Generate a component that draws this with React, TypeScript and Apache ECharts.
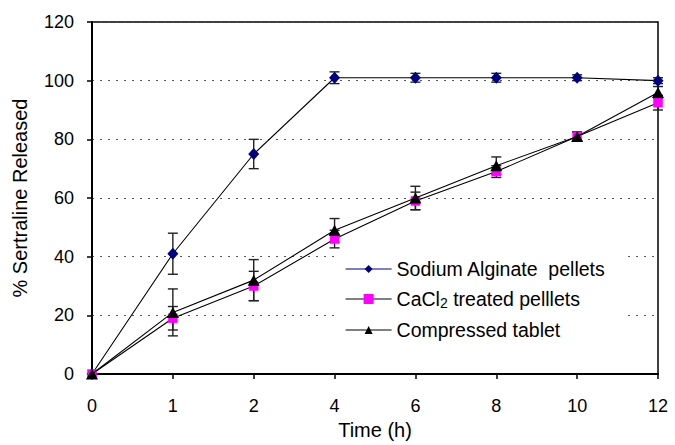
import React, { useEffect, useRef } from "react";
import * as echarts from "echarts";

const timeLabels = ["0", "1", "2", "4", "6", "8", "10", "12"];
const yTicks = [0, 20, 40, 60, 80, 100, 120];

const alginate = [0, 41, 75, 101, 101, 101, 101, 100];
const alginateErr = [0, 7, 5, 2, 1.5, 1.5, 1, 1];

const cacl2 = [0, 19, 30, 46, 59, 69, 81, 92.5];
const cacl2Err = [0, 4, 5, 3, 3, 2, 1.5, 2.5];

const tablet = [0, 21, 32, 49, 60, 71, 81, 96];
const tabletErr = [0, 8, 7, 4, 4, 3, 1.5, 2];

const seriesNames = ["Sodium Alginate  pellets", "CaCl2 treated pelllets", "Compressed tablet"];

function errData(vals: number[], errs: number[]) {
  return vals.map((v, i) => [i, v - errs[i], v + errs[i]]);
}

export default function App() {
  const ref = useRef<HTMLDivElement>(null);
  useEffect(() => {
    if (!ref.current) return;
    const chart = echarts.init(ref.current, undefined, { renderer: "svg" });
    const font = "Liberation Sans, Arial, sans-serif";
    const errSeries = (name: string, vals: number[], errs: number[]) => ({
      type: "custom",
      name: name + "_err",
      z: 2,
      silent: true,
      data: errData(vals, errs),
      renderItem: (params: any, api: any) => {
        const x = api.value(0);
        const lo = api.coord([x, api.value(1)]);
        const hi = api.coord([x, api.value(2)]);
        const w = 5;
        const style = { stroke: "#222", lineWidth: 1.4 };
        return {
          type: "group",
          children: [
            { type: "line", shape: { x1: lo[0], y1: lo[1], x2: hi[0], y2: hi[1] }, style },
            { type: "line", shape: { x1: lo[0] - w, y1: lo[1], x2: lo[0] + w, y2: lo[1] }, style },
            { type: "line", shape: { x1: hi[0] - w, y1: hi[1], x2: hi[0] + w, y2: hi[1] }, style },
          ],
        };
      },
    });
    chart.setOption({
      animation: false,
      backgroundColor: "#fff",
      textStyle: { fontFamily: font },
      grid: {
        left: 92, right: 17, top: 22, bottom: 69,
        show: true, borderColor: "#000", borderWidth: 1.5, backgroundColor: "transparent",
      },
      legend: {
        orient: "vertical",
        left: 335,
        top: 254,
        itemWidth: 46,
        itemHeight: 10,
        itemGap: 10,
        backgroundColor: "#fff",
        padding: [5, 22, 5, 10],
        data: [
          { name: seriesNames[0], lineStyle: { color: "#000080", width: 1.2 } },
          { name: seriesNames[1], lineStyle: { color: "#000", width: 1.2 } },
          { name: seriesNames[2], lineStyle: { color: "#000", width: 1.2 } },
        ],
        formatter: (name: string) =>
          name.startsWith("CaCl2")
            ? "{a|CaCl}{s|2}{a| treated pelllets}"
            : "{a|" + name + "}",
        textStyle: {
          fontFamily: font,
          fontSize: 19.5,
          color: "#000",
          rich: {
            a: { fontFamily: font, fontSize: 19.5, color: "#000" },
            s: { fontFamily: font, fontSize: 14, color: "#000", verticalAlign: "bottom", padding: [8, 0, 0, 0] },
          },
        },
      },
      xAxis: {
        type: "category",
        data: timeLabels,
        boundaryGap: false,
        name: "Time (h)",
        nameLocation: "middle",
        nameGap: 46,
        nameTextStyle: { fontSize: 20, color: "#000", fontFamily: font },
        axisLine: { lineStyle: { color: "#000", width: 2 } },
        axisTick: { show: true, length: 5, inside: false, alignWithLabel: true, lineStyle: { color: "#000", width: 1.5 } },
        axisLabel: { fontSize: 18, color: "#000", margin: 23, fontFamily: font },
        splitLine: { show: false },
      },
      yAxis: {
        type: "value",
        min: yTicks[0],
        max: yTicks[yTicks.length - 1],
        interval: 20,
        name: "% Sertraline Released",
        nameLocation: "middle",
        nameGap: 62,
        nameRotate: 90,
        nameTextStyle: { fontSize: 20, color: "#000", fontFamily: font },
        axisLine: { show: true, lineStyle: { color: "#000", width: 2 } },
        axisTick: { show: true, length: 5, lineStyle: { color: "#000", width: 1.5 } },
        axisLabel: { fontSize: 18, color: "#000", margin: 18, fontFamily: font },
        splitLine: { show: true, lineStyle: { color: "#555", type: [2, 6], width: 1.2 } },
      },
      series: [
        errSeries(seriesNames[0], alginate, alginateErr),
        errSeries(seriesNames[1], cacl2, cacl2Err),
        errSeries(seriesNames[2], tablet, tabletErr),
        {
          type: "line",
          name: seriesNames[0],
          data: alginate,
          z: 3,
          symbol: "diamond",
          symbolSize: [11, 12],
          lineStyle: { color: "#000", width: 1.1 },
          itemStyle: { color: "#000080", borderColor: "#000080", borderWidth: 0 },
        },
        {
          type: "line",
          name: seriesNames[1],
          data: cacl2,
          z: 4,
          symbol: "rect",
          symbolSize: 9,
          lineStyle: { color: "#000", width: 1.1 },
          itemStyle: { color: "#FF00FF", borderColor: "#FF00FF", borderWidth: 0.5 },
        },
        {
          type: "line",
          name: seriesNames[2],
          data: tablet,
          z: 5,
          symbol: "triangle",
          symbolSize: [12, 11],
          lineStyle: { color: "#000", width: 1.1 },
          itemStyle: { color: "#000", borderColor: "#000", borderWidth: 0 },
        },
      ],
    });
    return () => chart.dispose();
  }, []);
  return (
    <div
      ref={ref}
      style={{ position: "fixed", left: 0, top: 0, width: 675, height: 445 }}
    />
  );
}
